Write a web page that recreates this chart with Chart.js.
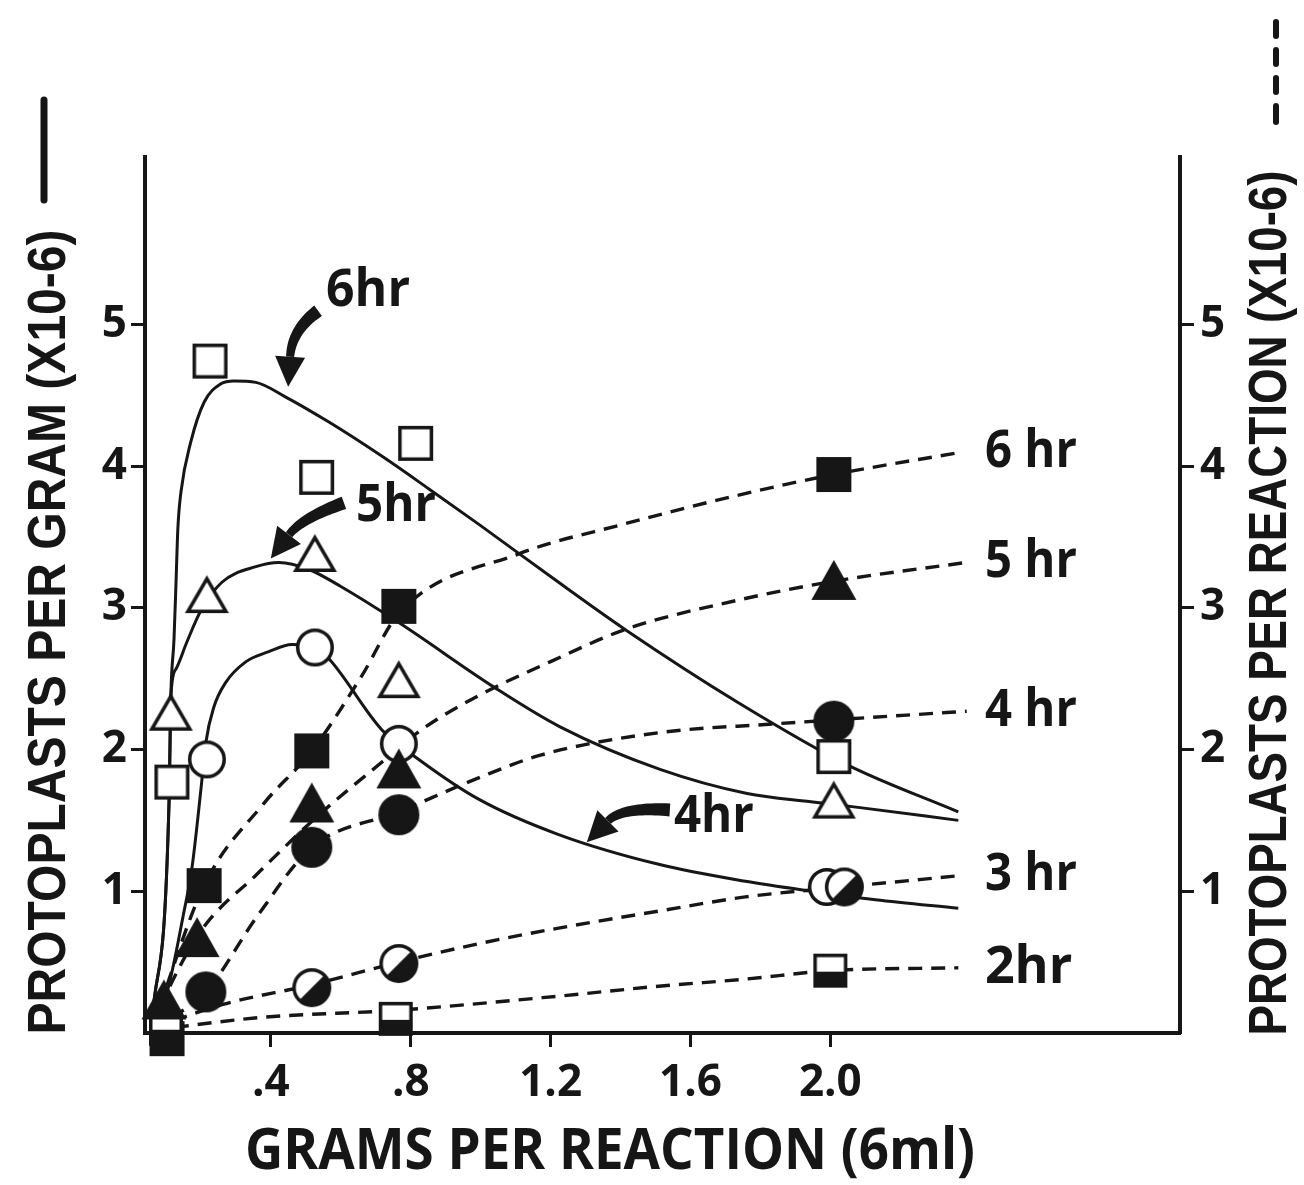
<!DOCTYPE html>
<html lang="en">
<head>
<meta charset="utf-8">
<title>Protoplast yield vs. tissue per reaction</title>
<script src="https://cdn.jsdelivr.net/npm/chart.js@4.4.1/dist/chart.umd.min.js"></script>
<style>
  html, body { margin: 0; padding: 0; background: #fff; }
  canvas { display: block; }
</style>
</head>
<body>
<canvas id="yieldChart" width="1304" height="1185"></canvas>
<script>
// Axis ticks
const xTicks = [0.4, 0.8, 1.2, 1.6, 2.0];
const xTickLabels = [".4", ".8", "1.2", "1.6", "2.0"];
const yTicks = [1, 2, 3, 4, 5];

// Measured points: [grams per reaction, protoplasts x10^-6]
// open symbols - per gram (left axis)
const gram6hr = [[0.117, 1.77], [0.226, 4.74], [0.531, 3.92], [0.814, 4.16], [2.01, 1.95]];
const gram5hr = [[0.114, 2.27], [0.217, 3.10], [0.526, 3.39], [0.766, 2.50], [2.01, 1.65]];
const gram4hr = [[0.217, 1.93], [0.526, 2.72], [0.766, 2.04], [1.99, 1.03]];
// filled / half-filled symbols - per reaction (right axis)
const rxn6hr = [[0.103, -0.04], [0.209, 1.04], [0.517, 1.99], [0.766, 3.01], [2.01, 3.94]];
const rxn5hr = [[0.094, 0.24], [0.189, 0.68], [0.517, 1.63], [0.766, 1.87], [2.01, 3.20]];
const rxn4hr = [[0.214, 0.29], [0.517, 1.31], [0.766, 1.54], [2.01, 2.20]];
const rxn3hr = [[0.517, 0.32], [0.766, 0.49], [2.04, 1.03]];
const rxn2hr = [[0.10, 0.03], [0.757, 0.10], [2.0, 0.44]];

// Hand-drawn curves through the points
const fitGram6hr = [[0.06, 0.08], [0.109, 1.65], [0.114, 2.38], [0.123, 2.78], [0.129, 3.2], [0.134, 3.56],
  [0.143, 3.82], [0.171, 4.17], [0.209, 4.45], [0.257, 4.58], [0.294, 4.60], [0.357, 4.59], [0.44, 4.49],
  [0.566, 4.31], [0.717, 4.07], [0.851, 3.84], [0.994, 3.59], [1.2, 3.22], [1.417, 2.84], [1.737, 2.33],
  [2.05, 1.89], [2.366, 1.56]];
const fitGram5hr = [[0.06, 0.08], [0.109, 1.65], [0.114, 2.38], [0.129, 2.57], [0.16, 2.76], [0.2, 2.98],
  [0.26, 3.18], [0.357, 3.29], [0.423, 3.32], [0.509, 3.27], [0.6, 3.15], [0.769, 2.89], [1.038, 2.44],
  [1.227, 2.16], [1.513, 1.86], [1.762, 1.69], [1.95, 1.63], [2.085, 1.59], [2.366, 1.50]];
const fitGram4hr = [[0.06, 0.08], [0.103, 0.29], [0.151, 0.85], [0.174, 1.16], [0.2, 1.72], [0.214, 2.05],
  [0.237, 2.3], [0.27, 2.47], [0.329, 2.62], [0.394, 2.69], [0.46, 2.74], [0.526, 2.72], [0.566, 2.64],
  [0.717, 2.14], [0.823, 1.93], [0.994, 1.65], [1.223, 1.40], [1.509, 1.19], [1.757, 1.07], [1.946, 1.0],
  [2.129, 0.94], [2.366, 0.88]];
const fitRxn6hr = [[0.06, 0.03], [0.209, 1.04], [0.38, 1.62], [0.517, 1.99], [0.66, 2.52], [0.766, 2.96],
  [1.109, 3.38], [1.409, 3.59], [1.729, 3.79], [2.01, 3.94], [2.38, 4.10]];
const fitRxn5hr = [[0.06, 0.03], [0.094, 0.24], [0.2, 0.72], [0.36, 1.12], [0.529, 1.52], [0.717, 1.91],
  [0.831, 2.14], [0.994, 2.38], [1.2, 2.62], [1.417, 2.85], [1.729, 3.05], [2.017, 3.19], [2.39, 3.32]];
const fitRxn4hr = [[0.06, 0.03], [0.214, 0.29], [0.36, 0.82], [0.517, 1.31], [0.766, 1.56], [0.994, 1.80],
  [1.171, 1.96], [1.514, 2.12], [1.837, 2.18], [2.017, 2.21], [2.39, 2.27]];
const fitRxn3hr = [[0.06, 0.03], [0.26, 0.2], [0.517, 0.34], [0.766, 0.50], [0.994, 0.63], [1.223, 0.74],
  [1.509, 0.86], [1.757, 0.96], [2.037, 1.03], [2.37, 1.11]];
const fitRxn2hr = [[0.06, 0.02], [0.374, 0.11], [0.757, 0.16], [1.223, 0.26], [1.509, 0.33], [1.757, 0.38],
  [2.0, 0.44], [2.366, 0.46]];

const ink = "#161616";
const tickFont = "'Open Sans', 'DejaVu Sans', sans-serif";
const titleFont = "'Liberation Sans', Arial, sans-serif";

const toXY = (pts) => pts.map(([x, y]) => ({ x, y }));

// Small canvases used as point styles
function makeMarker(shape, fill, w, h) {
  const lw = 3.5, pad = 3;
  const c = document.createElement("canvas");
  c.width = Math.ceil(w + pad * 2);
  c.height = Math.ceil(h + pad * 2);
  const g = c.getContext("2d");
  const cx = c.width / 2, cy = c.height / 2;
  g.lineWidth = lw;
  g.strokeStyle = ink;
  g.lineJoin = "miter";

  const path = () => {
    g.beginPath();
    if (shape === "square") {
      g.rect(cx - w / 2 + lw / 2, cy - h / 2 + lw / 2, w - lw, h - lw);
    } else if (shape === "circle") {
      g.arc(cx, cy, w / 2 - lw / 2, 0, Math.PI * 2);
    } else {
      g.moveTo(cx, cy - h / 2 + lw * 1.3);
      g.lineTo(cx + w / 2 - lw, cy + h / 2 - lw / 2);
      g.lineTo(cx - w / 2 + lw, cy + h / 2 - lw / 2);
      g.closePath();
    }
  };

  path();
  g.fillStyle = fill === "solid" ? ink : "#fff";
  g.fill();
  if (fill === "half") {
    g.save();
    path();
    g.clip();
    g.fillStyle = ink;
    g.beginPath();
    if (shape === "circle") {
      g.moveTo(0, c.height);
      g.lineTo(c.width, 0);
      g.lineTo(c.width, c.height);
    } else {
      g.rect(0, cy + 1, c.width, c.height);
    }
    g.fill();
    g.restore();
  }
  path();
  g.stroke();
  return c;
}

const markers = {
  openSquare: makeMarker("square", "open", 35, 35),
  openTriangle: makeMarker("triangle", "open", 45, 39),
  openCircle: makeMarker("circle", "open", 38, 38),
  solidSquare: makeMarker("square", "solid", 35, 35),
  solidTriangle: makeMarker("triangle", "solid", 46, 41),
  solidCircle: makeMarker("circle", "solid", 41, 41),
  halfCircle: makeMarker("circle", "half", 39, 39),
  halfSquare: makeMarker("square", "half", 34, 34),
};

function points(data, axis, style, order) {
  return {
    data: toXY(data),
    yAxisID: axis,
    showLine: false,
    pointStyle: style,
    pointRadius: 18,
    pointHoverRadius: 18,
    order: order,
    clip: false,
  };
}

function curve(data, axis, dashed) {
  return {
    data: toXY(data),
    yAxisID: axis,
    showLine: true,
    borderColor: ink,
    borderWidth: dashed ? 3.4 : 3,
    borderDash: dashed ? [14, 9] : [],
    pointRadius: 0,
    cubicInterpolationMode: "monotone",
    order: 5,
    clip: false,
  };
}

// Thick curved arrow: quadratic shaft tapering toward a triangular head
function drawArrow(ctx, tail, ctrl, end) {
  const n = 24, w0 = 13, w1 = 8;
  const left = [], right = [];
  for (let i = 0; i <= n; i++) {
    const t = i / n, u = 1 - t;
    const px = u * u * tail[0] + 2 * u * t * ctrl[0] + t * t * end[0];
    const py = u * u * tail[1] + 2 * u * t * ctrl[1] + t * t * end[1];
    const dx = 2 * u * (ctrl[0] - tail[0]) + 2 * t * (end[0] - ctrl[0]);
    const dy = 2 * u * (ctrl[1] - tail[1]) + 2 * t * (end[1] - ctrl[1]);
    const len = Math.hypot(dx, dy) || 1;
    const hw = (w0 + (w1 - w0) * t) / 2;
    left.push([px - dy / len * hw, py + dx / len * hw]);
    right.push([px + dy / len * hw, py - dx / len * hw]);
  }
  ctx.beginPath();
  left.forEach(([x, y], i) => (i ? ctx.lineTo(x, y) : ctx.moveTo(x, y)));
  right.reverse().forEach(([x, y]) => ctx.lineTo(x, y));
  ctx.closePath();
  ctx.fill();

  const dx = end[0] - ctrl[0], dy = end[1] - ctrl[1];
  const len = Math.hypot(dx, dy);
  const ux = dx / len, uy = dy / len;
  const headLen = 30, headHalf = 15;
  ctx.beginPath();
  ctx.moveTo(end[0] + ux * headLen, end[1] + uy * headLen);
  ctx.lineTo(end[0] - uy * headHalf, end[1] + ux * headHalf);
  ctx.lineTo(end[0] + uy * headHalf, end[1] - ux * headHalf);
  ctx.closePath();
  ctx.fill();
}

function drawLabel(ctx, text, x, y, size, maxW, align) {
  ctx.font = `bold ${size}px ${tickFont}`;
  ctx.textAlign = align || "center";
  ctx.textBaseline = "middle";
  ctx.fillText(text, x, y, maxW);
}

const annotations = {
  id: "annotations",
  afterDraw(chart) {
    const { ctx, scales } = chart;
    const px = (v) => scales.x.getPixelForValue(v);
    const py = (v) => scales.y.getPixelForValue(v);
    const pt = (x, y) => [px(x), py(y)];
    ctx.save();
    ctx.fillStyle = ink;
    ctx.strokeStyle = ink;

    // curve names inside the plot, with arrows onto the per-gram curves
    drawLabel(ctx, "6hr", px(0.678), py(5.23), 52, 84);
    drawLabel(ctx, "5hr", px(0.758), py(3.72), 52, 80);
    drawLabel(ctx, "4hr", px(1.667), py(1.52), 52, 80);
    drawArrow(ctx, pt(0.535, 5.095), pt(0.46, 4.961), pt(0.455, 4.771));
    drawArrow(ctx, pt(0.609, 3.74), pt(0.489, 3.634), pt(0.452, 3.515));
    drawArrow(ctx, pt(1.541, 1.574), pt(1.404, 1.595), pt(1.364, 1.496));

    // names at the ends of the per-reaction curves
    const ends = [
      ["6 hr", fitRxn6hr], ["5 hr", fitRxn5hr], ["4 hr", fitRxn4hr], ["3 hr", fitRxn3hr], ["2hr", fitRxn2hr],
    ];
    ends.forEach(([name, fit]) => {
      const last = fit[fit.length - 1];
      drawLabel(ctx, name, px(2.442), scales.y2.getPixelForValue(last[1]), 52, 92, "left");
    });

    // axis titles
    ctx.textAlign = "center";
    ctx.textBaseline = "middle";
    ctx.font = `bold 54px ${titleFont}`;
    ctx.save();
    ctx.translate(50, 632);
    ctx.rotate(-Math.PI / 2);
    ctx.fillText("PROTOPLASTS PER GRAM (X10-6)", 0, 0, 805);
    ctx.restore();

    ctx.save();
    ctx.translate(1271, 603);
    ctx.rotate(-Math.PI / 2);
    ctx.fillText("PROTOPLASTS PER REACTION (X10-6)", 0, 0, 865);
    ctx.restore();

    ctx.font = `bold 58px ${tickFont}`;
    ctx.fillText("GRAMS PER REACTION (6ml)", 610, 1152, 730);

    // line keys after the vertical titles
    ctx.lineCap = "round";
    ctx.lineWidth = 7;
    ctx.beginPath();
    ctx.moveTo(44, 100);
    ctx.lineTo(44, 200);
    ctx.stroke();
    ctx.lineWidth = 6;
    [[22, 36], [50, 64], [78, 92], [106, 122]].forEach(([a, b]) => {
      ctx.beginPath();
      ctx.moveTo(1276, a);
      ctx.lineTo(1276, b);
      ctx.stroke();
    });
    ctx.restore();
  },
};

const axisLook = {
  grid: { drawOnChartArea: false, drawTicks: true, tickLength: 14, tickWidth: 3, color: ink },
  border: { display: true, width: 4, color: ink },
};

const ctx = document.getElementById("yieldChart").getContext("2d");
const yieldChart = new Chart(ctx, {
  type: "scatter",
  data: {
    datasets: [
      curve(fitGram6hr, "y", false),
      curve(fitGram5hr, "y", false),
      curve(fitGram4hr, "y", false),
      curve(fitRxn6hr, "y2", true),
      curve(fitRxn5hr, "y2", true),
      curve(fitRxn4hr, "y2", true),
      curve(fitRxn3hr, "y2", true),
      curve(fitRxn2hr, "y2", true),
      points(gram6hr, "y", markers.openSquare, 3),
      points(gram5hr, "y", markers.openTriangle, 3),
      points(gram4hr, "y", markers.openCircle, 3),
      points(rxn2hr, "y2", markers.halfSquare, 2),
      points(rxn6hr, "y2", markers.solidSquare, 2),
      points(rxn5hr, "y2", markers.solidTriangle, 1),
      points(rxn4hr, "y2", markers.solidCircle, 2),
      points(rxn3hr, "y2", markers.halfCircle, 1),
    ],
  },
  options: {
    responsive: false,
    animation: false,
    devicePixelRatio: 1,
    layout: { padding: { top: 157, left: 0, right: 0, bottom: 0 } },
    plugins: { legend: { display: false }, tooltip: { enabled: false } },
    scales: {
      x: {
        type: "linear",
        min: 0.04,
        max: 3.0,
        ...axisLook,
        afterBuildTicks: (s) => { s.ticks = xTicks.map((v) => ({ value: v })); },
        afterFit: (s) => { s.height = 152; },
        ticks: {
          autoSkip: false,
          maxRotation: 0,
          padding: 10,
          color: ink,
          font: { family: tickFont, size: 44, weight: "bold" },
          callback: (v, i) => xTickLabels[i],
        },
      },
      y: {
        type: "linear",
        position: "left",
        min: 0,
        max: 6.18,
        ...axisLook,
        afterBuildTicks: (s) => { s.ticks = yTicks.map((v) => ({ value: v })); },
        afterFit: (s) => { s.width = 145; },
        ticks: {
          padding: 4,
          color: ink,
          font: { family: tickFont, size: 44, weight: "bold" },
        },
      },
      y2: {
        type: "linear",
        position: "right",
        min: 0,
        max: 6.18,
        ...axisLook,
        afterBuildTicks: (s) => { s.ticks = yTicks.map((v) => ({ value: v })); },
        afterFit: (s) => { s.width = 124; },
        ticks: {
          padding: 6,
          color: ink,
          font: { family: tickFont, size: 44, weight: "bold" },
        },
      },
    },
  },
  plugins: [annotations],
});
</script>
</body>
</html>
